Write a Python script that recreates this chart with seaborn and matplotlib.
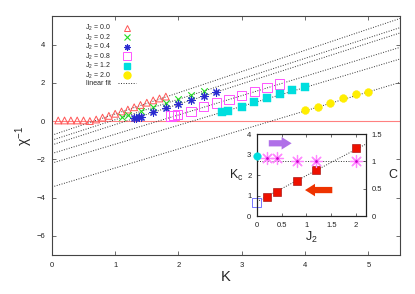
import numpy as np
import seaborn as sns
import matplotlib.pyplot as plt
from matplotlib.lines import Line2D

# inverse susceptibility vs K for each J2
k_00 = [0.1, 0.2, 0.3, 0.4, 0.5, 0.6, 0.7, 0.8, 0.9, 1.0, 1.1, 1.2, 1.3, 1.4, 1.5, 1.6, 1.7, 1.8]
chi_00 = [0.03, 0.03, 0.03, 0.03, 0.03, 0.0, 0.08, 0.18, 0.27, 0.38, 0.5, 0.6, 0.72, 0.84, 0.96, 1.08, 1.18, 1.28]
k_02 = [1.1, 1.2, 1.4, 1.6, 1.8, 2.0, 2.2, 2.4]
chi_02 = [0.2, 0.3, 0.52, 0.73, 0.94, 1.15, 1.36, 1.57]
k_04 = [1.3, 1.33, 1.37, 1.4, 1.6, 1.8, 2.0, 2.2, 2.4, 2.6]
chi_04 = [0.15, 0.17, 0.19, 0.21, 0.46, 0.68, 0.9, 1.1, 1.3, 1.5]
k_08 = [1.88, 1.93, 1.98, 2.2, 2.4, 2.6, 2.8, 3.0, 3.2, 3.4, 3.6]
chi_08 = [0.26, 0.3, 0.34, 0.5, 0.76, 0.95, 1.12, 1.33, 1.54, 1.74, 1.93]
k_12 = [2.68, 2.78, 3.0, 3.2, 3.4, 3.6, 3.8, 4.0]
chi_12 = [0.46, 0.55, 0.76, 0.98, 1.18, 1.39, 1.6, 1.77]
k_20 = [4.0, 4.2, 4.4, 4.6, 4.8, 5.0]
chi_20 = [0.6, 0.72, 0.93, 1.2, 1.42, 1.54]

# linear fits: intercept, slope
fit_a = [-0.74, -1.0, -1.25, -1.7, -2.2, -3.45]
fit_b = [1.11, 1.07, 1.065, 1.01, 0.99, 0.995]

labels = ["J$_2$ = 0.0", "J$_2$ = 0.2", "J$_2$ = 0.4", "J$_2$ = 0.8", "J$_2$ = 1.2", "J$_2$ = 2.0"]

# inset: Kc and C vs J2
j2_kc = [0.2, 0.4, 0.8, 1.2, 2.0]
kc = [0.93, 1.17, 1.71, 2.24, 3.3]
j2_kc0 = [0.0]
kc0 = [0.67]
kc_fit_a, kc_fit_b = 0.7, 1.28
j2_c = [0.2, 0.4, 0.8, 1.2, 2.0]
c_vals = [1.07, 1.07, 1.0, 1.0, 1.0]
j2_c0 = [0.0]
c0 = [1.1]
c_fit = 1.0

sns.set_style("ticks")
plt.rcParams['font.family'] = ['Liberation Sans', 'DejaVu Sans']
plt.rcParams['mathtext.fontset'] = 'custom'
plt.rcParams['mathtext.rm'] = 'Liberation Sans'
plt.rcParams['mathtext.it'] = 'Liberation Sans'

fig = plt.figure(figsize=(4.15, 2.94), dpi=100)
ax = fig.add_axes([0.125, 0.133, 0.839, 0.813])

red = '#ff5555'
green = '#22dd22'
blue = '#2a2ad0'
magenta = '#ff55ff'
cyan = '#00dede'
yellow = '#ffee00'

fitstyle = dict(color='#333333', lw=0.7, linestyle=(0, (1, 1.6)))

ax.axhline(0, color='#ff8080', lw=0.8, zorder=1)
for a, b in zip(fit_a, fit_b):
    ax.axline((0, a), slope=b, zorder=1, **fitstyle)

sns.scatterplot(x=k_00, y=chi_00, ax=ax, marker='^', s=24, facecolor='none', edgecolor=red, linewidth=0.7, zorder=3)
sns.scatterplot(x=k_02, y=chi_02, ax=ax, marker='x', s=22, color=green, linewidth=0.8, zorder=3)
sns.scatterplot(x=k_04, y=chi_04, ax=ax, marker=(8, 2, 0), s=28, color=blue, linewidth=0.8, zorder=3)
sns.scatterplot(x=k_08, y=chi_08, ax=ax, marker='s', s=45, facecolor='none', edgecolor=magenta, linewidth=0.7, zorder=3)
sns.scatterplot(x=k_12, y=chi_12, ax=ax, marker='s', s=32, color=cyan, edgecolor=cyan, linewidth=0.3, zorder=3)
sns.scatterplot(x=k_20, y=chi_20, ax=ax, marker='o', s=32, color=yellow, edgecolor=yellow, linewidth=0.3, zorder=3)

ax.set_xlim(0, 5.5)
ax.set_ylim(-7, 5.5)
ax.set_xticks([0, 1, 2, 3, 4, 5])
ax.set_yticks([-6, -4, -2, 0, 2, 4])
ax.tick_params(direction='in', labelsize=5.5, length=3, width=0.6, top=True, right=True,
               labelcolor='#222222', color='#555555', pad=5)
for s in ax.spines.values():
    s.set_linewidth(0.8)
    s.set_color('#444444')
ax.set_xlabel("K", fontsize=10.5, labelpad=1)
ax.set_ylabel(r"$\chi^{-1}$", fontsize=10, labelpad=1)

handles = [
    Line2D([], [], marker='^', ls='', mfc='none', mec=red, ms=4.5, mew=0.7),
    Line2D([], [], marker='x', ls='', color=green, ms=4.5, mew=0.8),
    Line2D([], [], marker=(8, 2, 0), ls='', color=blue, ms=4.5, mew=0.8),
    Line2D([], [], marker='s', ls='', mfc='none', mec=magenta, ms=5.5, mew=0.7),
    Line2D([], [], marker='s', ls='', color=cyan, ms=5),
    Line2D([], [], marker='o', ls='', color=yellow, ms=5),
    Line2D([], [], **fitstyle),
]
ax.legend(handles, labels + ["linear fit"], loc='upper left', bbox_to_anchor=(0.08, 0.99),
          frameon=False, markerfirst=False, fontsize=5, labelspacing=-0.1,
          handlelength=2.6, handletextpad=1.0, borderpad=0.2)

# inset
ai = fig.add_axes([0.619, 0.265, 0.263, 0.279])
ai2 = ai.twinx()
ai.plot([0, 2.2], [kc_fit_a, kc_fit_a + kc_fit_b * 2.2], zorder=1, **fitstyle)
ai2.axhline(c_fit, zorder=1, **fitstyle)
sns.scatterplot(x=j2_kc, y=kc, ax=ai, marker='s', s=30, color='#ee1100', edgecolor='#990000', linewidth=0.4, zorder=3)
sns.scatterplot(x=j2_kc0, y=kc0, ax=ai, marker='s', s=40, facecolor='none', edgecolor='#7777ff', linewidth=0.7, zorder=3, clip_on=False)
sns.scatterplot(x=j2_c, y=c_vals, ax=ai2, marker=(8, 2, 0), s=75, color='#ff88ff', linewidth=0.9, zorder=3, clip_on=False)
sns.scatterplot(x=j2_c, y=c_vals, ax=ai2, marker='o', s=4, color='#cc00cc', linewidth=0, zorder=4)
sns.scatterplot(x=j2_c0, y=c0, ax=ai2, marker='o', s=30, color=cyan, edgecolor=cyan, linewidth=0.3, zorder=3, clip_on=False)

ai.set_xlim(0, 2.2)
ai.set_ylim(0, 4)
ai2.set_ylim(0, 1.5)
ai.set_xticks([0, 0.5, 1, 1.5, 2])
ai.set_xticklabels(["0", "0.5", "1", "1.5", "2"])
ai.set_yticks([0, 1, 2, 3, 4])
ai2.set_yticks([0, 0.5, 1, 1.5])
ai2.set_yticklabels(["0", "0.5", "1", "1.5"])
for a_ in (ai, ai2):
    a_.tick_params(direction='in', labelsize=5.5, length=2.5, width=0.6, pad=4,
                   labelcolor='#222222', color='#555555')
    for s in a_.spines.values():
        s.set_linewidth(0.8)
        s.set_color('#222222')
ai.tick_params(top=True)
ai.set_xlabel("J$_2$", fontsize=9, labelpad=1)
ai.set_ylabel("K$_c$", fontsize=9, rotation=0, labelpad=8, va='center')
ai2.set_ylabel("C", fontsize=9, rotation=0, labelpad=8, va='center')

arrowshape = 'simple,head_width=1.0,head_length=0.8,tail_width=0.5'
ai.annotate("", xy=(0.7, 3.55), xytext=(0.24, 3.55),
            arrowprops=dict(arrowstyle=arrowshape, color='#b070e8', lw=0,
                            shrinkA=0, shrinkB=0, mutation_scale=9))
ai.annotate("", xy=(0.97, 1.27), xytext=(1.52, 1.27),
            arrowprops=dict(arrowstyle=arrowshape, color='#ee3300', lw=0,
                            shrinkA=0, shrinkB=0, mutation_scale=9))

fig.savefig("out.png", dpi=100)
